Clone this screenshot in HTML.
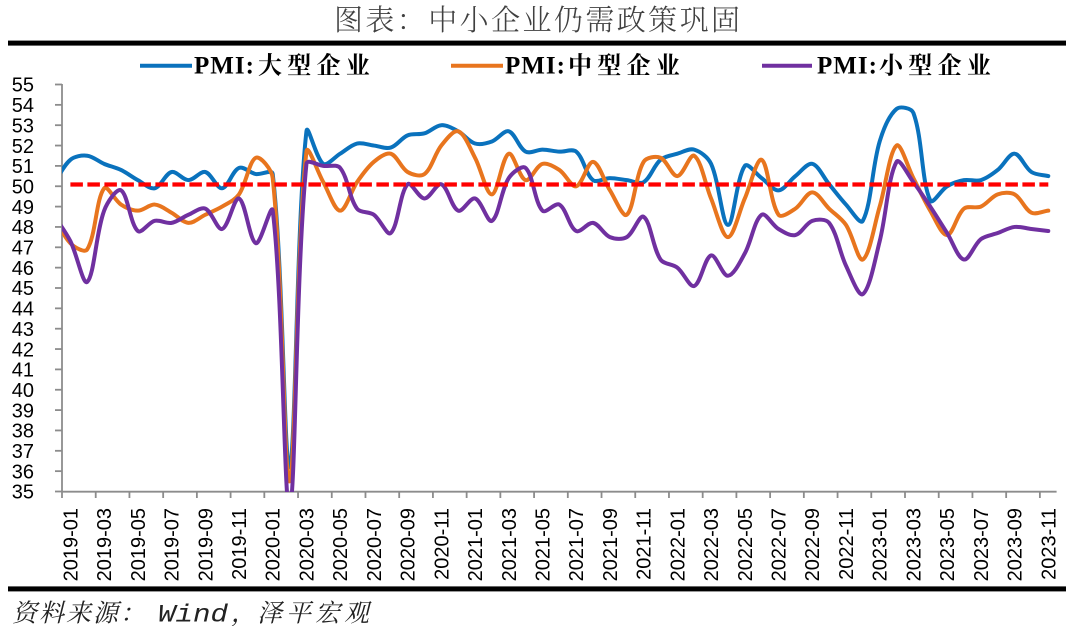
<!DOCTYPE html>
<html>
<head>
<meta charset="utf-8">
<style>
  html,body{margin:0;padding:0;background:#fff;}
  body{width:1080px;height:626px;overflow:hidden;}
  svg{display:block;}
</style>
</head>
<body>
<svg id="chart" width="1080" height="626" viewBox="0 0 1080 626" xmlns="http://www.w3.org/2000/svg">
  <rect x="0" y="0" width="1080" height="626" fill="#ffffff"/>

  <!-- Title -->
  <text x="334" y="30" font-family="'Noto Serif CJK SC',serif" font-weight="300" font-size="29" fill="#404040" textLength="406" lengthAdjust="spacing">图表：中小企业仍需政策巩固</text>

  <!-- top rule -->
  <rect x="8" y="40.6" width="1058" height="5" fill="#000"/>

  <!-- Legend -->
  <line x1="140" y1="65.7" x2="192" y2="65.7" stroke="#0A72BD" stroke-width="4"/>
  <text x="194" y="73.3" font-family="'Liberation Serif',serif" font-weight="bold" font-size="25" letter-spacing="1" fill="#000">PMI:</text>
  <text x="258" y="73.3" font-family="'Liberation Serif','Noto Serif CJK SC',serif" font-weight="bold" font-size="24" letter-spacing="5.3" fill="#000">大型企业</text>

  <line x1="451" y1="65.7" x2="503" y2="65.7" stroke="#E8751E" stroke-width="4"/>
  <text x="505" y="73.3" font-family="'Liberation Serif',serif" font-weight="bold" font-size="25" letter-spacing="1" fill="#000">PMI:</text>
  <text x="568" y="73.3" font-family="'Liberation Serif','Noto Serif CJK SC',serif" font-weight="bold" font-size="24" letter-spacing="5.3" fill="#000">中型企业</text>

  <line x1="762" y1="65.7" x2="812" y2="65.7" stroke="#7030A0" stroke-width="4"/>
  <text x="817" y="73.3" font-family="'Liberation Serif',serif" font-weight="bold" font-size="25" letter-spacing="1" fill="#000">PMI:</text>
  <text x="879" y="73.3" font-family="'Liberation Serif','Noto Serif CJK SC',serif" font-weight="bold" font-size="24" letter-spacing="5.3" fill="#000">小型企业</text>

  <!-- Axes -->
  <g id="axes" stroke="#8c8c8c" stroke-width="1.8" fill="none"></g>
  <g id="ylabels" font-family="'Liberation Sans',sans-serif" font-size="20" fill="#000" text-anchor="end"></g>
  <g id="xlabels" font-family="'Liberation Sans',sans-serif" font-size="20" fill="#000" text-anchor="end"></g>

  <defs>
    <clipPath id="plotclip"><rect x="62" y="78" width="996" height="414"/></clipPath>
  </defs>
  <g id="series" clip-path="url(#plotclip)" fill="none" stroke-width="4" stroke-linejoin="round" stroke-linecap="round"></g>

  <!-- 50 line -->
  <line x1="70.4" y1="184.5" x2="1048.3" y2="184.5" stroke="#FF0000" stroke-width="4.3" stroke-dasharray="12.5 4.5"/>

  <!-- bottom rule -->
  <rect x="8" y="586.4" width="1058" height="5" fill="#000"/>

  <!-- Footer -->
  <g font-style="italic" fill="#222">
    <text x="12" y="621.5" font-family="'Liberation Serif','Noto Serif CJK SC',serif" font-size="25" letter-spacing="2">资料来源：</text>
    <text x="158" y="621.5" font-family="'Liberation Mono',monospace" font-size="25" textLength="70" lengthAdjust="spacingAndGlyphs">Wind</text>
    <text x="231" y="621.5" font-family="'Liberation Serif','Noto Serif CJK SC',serif" font-size="25">，</text>
    <text x="257" y="621.5" font-family="'Liberation Serif','Noto Serif CJK SC',serif" font-size="25" letter-spacing="4">泽平宏观</text>
  </g>
</svg>

<script>
(function(){
  var NS="http://www.w3.org/2000/svg";
  var X0=70.4, DX=16.86;
  function Y(v){return 84.5+(55-v)*20.35;}
  function el(tag,attrs,parent,txt){
    var e=document.createElementNS(NS,tag);
    for(var k in attrs){e.setAttribute(k,attrs[k]);}
    if(txt!==undefined){e.textContent=txt;}
    parent.appendChild(e);return e;
  }
  var ax=document.getElementById('axes');
  el('line',{x1:62,y1:84,x2:62,y2:492},ax);
  el('line',{x1:62,y1:491.7,x2:1056.6,y2:491.7},ax);
  for(var v=35;v<=55;v++){
    var yy=Y(v);
    el('line',{x1:55,y1:yy,x2:62,y2:yy},ax);
  }
  for(var k=0;k<=58;k+=2){
    var xx=62+DX*k;
    el('line',{x1:xx,y1:491.7,x2:xx,y2:498},ax);
  }
  var yl=document.getElementById('ylabels');
  for(var v=35;v<=55;v++){
    el('text',{x:34,y:(Y(v)+7.2).toFixed(2)},yl,String(v));
  }
  var xl=document.getElementById('xlabels');
  for(var i=0;i<59;i+=2){
    var yr=2019+Math.floor(i/12), mo=(i%12)+1;
    var lab=yr+'-'+(mo<10?'0':'')+mo;
    var cx=X0+DX*i;
    el('text',{transform:'translate('+(cx+7).toFixed(2)+',508) rotate(-90)'},xl,lab);
  }
  var L=[50.1,
    51.3,51.5,51.1,50.8,50.3,49.9,50.7,50.3,50.7,49.9,50.9,50.6,
    50.6,36.2,52.7,51.1,51.6,52.1,52.0,51.9,52.5,52.6,53.0,52.7,
    52.1,52.2,52.7,51.7,51.8,51.7,51.7,50.3,50.4,50.3,50.2,51.3,
    51.6,51.8,51.1,48.1,51.0,50.4,49.8,50.5,51.1,50.1,49.1,48.3,
    52.2,53.8,53.6,49.3,50.0,50.3,50.3,50.8,51.6,50.7,50.5];
  var M=[48.6,
    47.2,46.9,49.9,49.1,48.8,49.1,48.7,48.2,48.6,49.0,49.6,51.4,
    50.4,35.5,51.7,50.2,48.8,50.2,51.2,51.6,50.7,50.6,52.0,52.7,
    51.4,49.6,51.6,50.3,51.1,50.8,50.0,51.2,49.8,48.6,51.2,51.4,
    50.5,51.5,49.4,47.5,49.4,51.3,48.6,48.9,49.7,48.9,48.1,46.4,
    49.0,52.0,50.4,48.8,47.6,48.9,49.0,49.6,49.6,48.7,48.8];
  var S=[48.6,
    47.3,45.3,48.8,49.8,47.8,48.3,48.2,48.6,48.9,47.9,49.4,47.2,
    48.8,34.1,51.1,51.0,50.9,48.9,48.6,47.7,50.1,49.4,50.1,48.8,
    49.4,48.3,50.4,50.9,48.8,49.1,47.8,48.2,47.5,47.5,48.5,46.4,
    46.0,45.1,46.6,45.6,46.7,48.6,47.9,47.6,48.3,48.2,46.1,44.7,
    47.3,51.2,50.2,49.0,47.7,46.4,47.4,47.7,48.0,47.9,47.8];
  function build(vals){
    var P=vals.map(function(v,k){return [X0+DX*(k-1),Y(v)];});
    var n=P.length,oc=[],ic=[];
    for(var i=0;i<n;i++){
      var a=P[Math.max(i-1,0)],b=P[i],c=P[Math.min(i+1,n-1)];
      var tx=c[0]-a[0],ty=c[1]-a[1];
      var din=Math.hypot(b[0]-a[0],b[1]-a[1]),dout=Math.hypot(c[0]-b[0],c[1]-b[1]);
      var s=(din+dout)||1;
      oc[i]=[b[0]+tx*dout/s/3,b[1]+ty*dout/s/3];
      ic[i]=[b[0]-tx*din/s/3,b[1]-ty*din/s/3];
    }
    function f(p){return p[0].toFixed(2)+','+p[1].toFixed(2);}
    var d='M'+f(P[0]);
    for(var i=0;i<n-1;i++){d+=' C'+f(oc[i])+' '+f(ic[i+1])+' '+f(P[i+1]);}
    return d;
  }
  var g=document.getElementById('series');
  el('path',{d:build(L),stroke:'#0A72BD'},g);
  el('path',{d:build(M),stroke:'#E8751E'},g);
  el('path',{d:build(S),stroke:'#7030A0'},g);
})();
</script>
</body>
</html>
